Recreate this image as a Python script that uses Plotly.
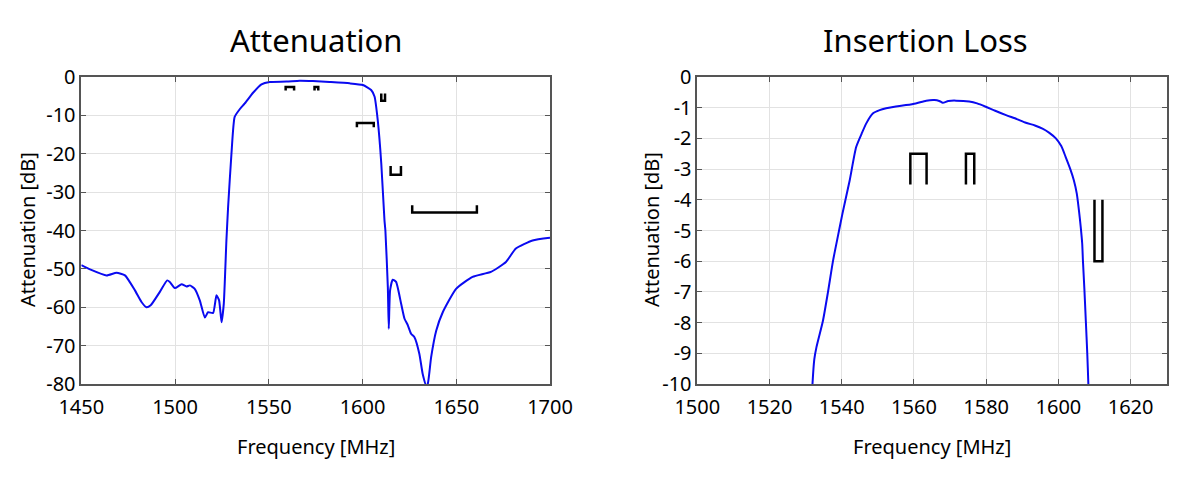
import plotly.graph_objects as go

# ---- Attenuation (left) ----
att_freq = [1450, 1455, 1463.5, 1468.8, 1473.3, 1478.6, 1482.2, 1484.8, 1487, 1491.9, 1495.8,
            1497.2, 1499.9, 1503.5, 1506.1, 1507.9, 1510.5, 1513.2, 1515.9, 1517.6, 1520.3,
            1522.1, 1523.5, 1524.8, 1526, 1527.4, 1528.3, 1530.1, 1531.8, 1534.5, 1537.2,
            1541.6, 1546.1, 1550.5, 1559.4, 1566.5, 1573.5, 1582.4, 1593.1, 1600.2, 1604.6,
            1606.4, 1608.1, 1610, 1611.7, 1612.2, 1613.5, 1614, 1614.7, 1616.1, 1617.9,
            1620.6, 1622.4, 1624, 1625.9, 1627.7, 1630.3, 1632.1, 1634, 1634.8, 1636.6,
            1639.3, 1642.8, 1649.9, 1658.7, 1668.5, 1676.5, 1681.8, 1690.7, 1700]
att_db = [-49.0, -50.2, -51.7, -51.0, -51.7, -55.6, -58.7, -60.0, -59.5, -56.0, -53.0,
          -53.4, -55.0, -54.0, -54.6, -54.3, -55.2, -58.2, -62.7, -61.3, -61.5,
          -56.9, -58.2, -63.9, -59.1, -42.6, -33.9, -19.9, -10.4, -8.4, -6.9,
          -4.1, -1.9, -1.3, -1.2, -0.96, -1.05, -1.3, -1.65, -2.1, -3.4,
          -5.1, -11.2, -22.5, -37.3, -40.0, -54.7, -65.6, -55.6, -52.8, -53.4,
          -59.1, -63.0, -64.5, -66.9, -67.8, -72.1, -77.4, -80.4, -80.0, -73.0,
          -66.1, -61.3, -55.2, -52.1, -50.8, -48.2, -44.7, -42.6, -41.9]

# spec masks (attenuation) - segments separated by None
att_mask_freq = [1559, 1559, 1563.5, 1563.5, None,
                 1574.4, 1574.4, 1576.4, 1576.4, None,
                 1610, 1610, 1612, 1612, None,
                 1597, 1597, 1606, 1606, None,
                 1615, 1615, 1620.5, 1620.5, None,
                 1626.5, 1626.5, 1661, 1661]
att_mask_db = [-3.5, -2.6, -2.6, -3.5, None,
               -3.5, -2.6, -2.6, -3.5, None,
               -4.3, -6.2, -6.2, -4.3, None,
               -13.1, -12.0, -12.0, -13.1, None,
               -23.2, -25.5, -25.5, -23.2, None,
               -33.4, -35.3, -35.3, -33.4]

# ---- Insertion loss (right) ----
il_freq = [1531.7, 1531.9, 1532.4, 1533.0, 1534.8, 1536.2, 1537.6, 1539.0, 1540.2, 1542.2,
           1544.0, 1545.5, 1546.8, 1548.6, 1550.5, 1552.3, 1555.0, 1557.8, 1560.5, 1563.4,
           1565.7, 1567.0, 1568.0, 1569.5, 1571.7, 1575.3, 1577.5, 1579.9, 1582.5, 1585.5,
           1588.5, 1591.0, 1593.5, 1595.6, 1597.5, 1599.3, 1600.8, 1602.0, 1603.3, 1604.3,
           1605.1, 1605.7, 1606.2, 1606.6, 1606.8, 1607.2, 1607.6, 1608.0, 1608.3, 1608.4]
il_db = [-10.5, -10.0, -9.2, -8.8, -7.94, -7.0, -5.98, -5.15, -4.45, -3.37,
         -2.28, -1.85, -1.51, -1.19, -1.08, -1.02, -0.96, -0.915, -0.86, -0.77,
         -0.75, -0.78, -0.84, -0.78, -0.77, -0.80, -0.86, -0.97, -1.10, -1.24,
         -1.37, -1.49, -1.58, -1.68, -1.82, -2.0, -2.25, -2.6, -3.0, -3.37,
         -3.8, -4.35, -4.9, -5.43, -5.98, -6.9, -7.94, -9.0, -10.0, -10.5]

il_mask_freq = [1559, 1559, 1563.5, 1563.5, None,
                1574.4, 1574.4, 1576.7, 1576.7, None,
                1610, 1610, 1612.2, 1612.2]
il_mask_db = [-3.5, -2.5, -2.5, -3.5, None,
              -3.5, -2.5, -2.5, -3.5, None,
              -4.0, -6.0, -6.0, -4.0]

att_xticks = [1450, 1500, 1550, 1600, 1650, 1700]
att_yticks = [0, -10, -20, -30, -40, -50, -60, -70, -80]
il_xticks = [1500, 1520, 1540, 1560, 1580, 1600, 1620]
il_yticks = [0, -1, -2, -3, -4, -5, -6, -7, -8, -9, -10]

BLUE = "#0a0af0"
FONT = "Noto Sans"

fig = go.Figure()
fig.add_trace(go.Scatter(x=att_freq, y=att_db, mode="lines",
                         line=dict(color=BLUE, width=2, shape="spline", smoothing=0.5),
                         xaxis="x", yaxis="y"))
fig.add_trace(go.Scatter(x=att_mask_freq, y=att_mask_db, mode="lines",
                         line=dict(color="black", width=2.5), xaxis="x", yaxis="y",
                         connectgaps=False))
fig.add_trace(go.Scatter(x=il_freq, y=il_db, mode="lines",
                         line=dict(color=BLUE, width=2, shape="spline", smoothing=0.6),
                         xaxis="x2", yaxis="y2"))
fig.add_trace(go.Scatter(x=il_mask_freq, y=il_mask_db, mode="lines",
                         line=dict(color="black", width=2.5), xaxis="x2", yaxis="y2",
                         connectgaps=False))

axis_common = dict(showgrid=True, gridcolor="#e2e2e2", gridwidth=1,
                   showline=True, linecolor="#555555", linewidth=1.5, mirror="ticks",
                   ticks="inside", ticklen=5, tickcolor="#555555", zeroline=False,
                   automargin=False,
                   tickfont=dict(family=FONT, size=20, color="black"))

dom_left = [81.3 / 1200, 550 / 1200]
dom_right = [697.3 / 1200, 1166.7 / 1200]
dom_y = [1 - 384 / 480, 1 - 77 / 480]

fig.update_layout(
    width=1200, height=480, margin=dict(l=0, r=0, t=0, b=0, autoexpand=False),
    paper_bgcolor="white", plot_bgcolor="white", showlegend=False,
    font=dict(family=FONT, color="black"),
    xaxis=dict(domain=dom_left, range=[1450, 1700], tickvals=att_xticks,
               ticktext=[str(v) for v in att_xticks], anchor="y", ticklabelstandoff=4,
               **axis_common),
    yaxis=dict(domain=dom_y, range=[-80, 0], tickvals=att_yticks,
               ticktext=[str(v) for v in att_yticks], anchor="x", **axis_common),
    xaxis2=dict(domain=dom_right, range=[1500, 1630], tickvals=il_xticks,
                ticktext=[str(v) for v in il_xticks], anchor="y2", ticklabelstandoff=4,
                **axis_common),
    yaxis2=dict(domain=dom_y, range=[-10, 0], tickvals=il_yticks,
                ticktext=[str(v) for v in il_yticks], anchor="x2", **axis_common),
)

ann = []
ann.append(dict(text="Attenuation", x=316 / 1200, y=1 - 40 / 480, xref="paper", yref="paper",
                showarrow=False, font=dict(family=FONT, size=31, color="black"),
                xanchor="center", yanchor="middle"))
ann.append(dict(text="Insertion Loss", x=925 / 1200, y=1 - 40 / 480, xref="paper", yref="paper",
                showarrow=False, font=dict(family=FONT, size=31, color="black"),
                xanchor="center", yanchor="middle"))
for xc in [316, 932]:
    ann.append(dict(text="Frequency [MHz]", x=xc / 1200, y=1 - 446 / 480, xref="paper", yref="paper",
                    showarrow=False, font=dict(family=FONT, size=20, color="black"),
                    xanchor="center", yanchor="middle"))
for xc in [27, 651]:
    ann.append(dict(text="Attenuation [dB]", x=xc / 1200, y=1 - 230 / 480, xref="paper", yref="paper",
                    showarrow=False, textangle=-90, font=dict(family=FONT, size=20, color="black"),
                    xanchor="center", yanchor="middle"))
fig.update_layout(annotations=ann)

fig.write_html("out.html")
